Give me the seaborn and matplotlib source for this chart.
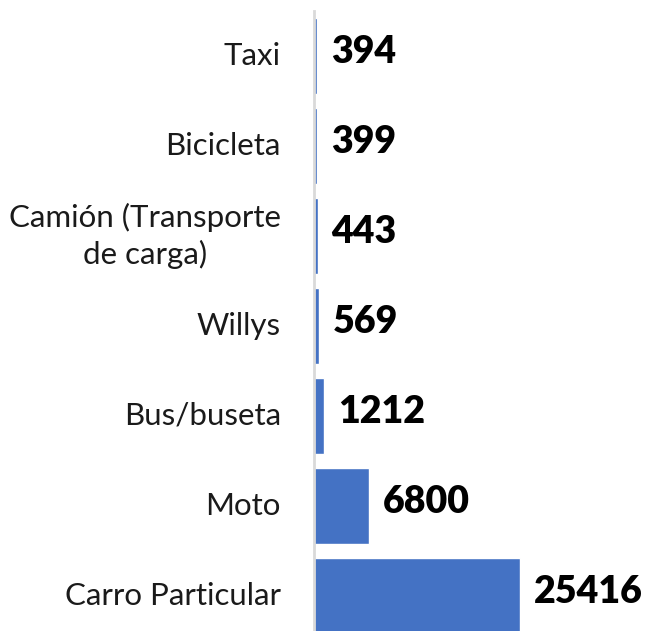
import matplotlib
matplotlib.use("Agg")
import matplotlib.pyplot as plt
import matplotlib.transforms as mtransforms
import seaborn as sns

# Datos
categorias = ['Taxi', 'Bicicleta', 'Camión (Transporte\nde carga)', 'Willys',
              'Bus/buseta', 'Moto', 'Carro Particular']
valores = [394, 399, 443, 569, 1212, 6800, 25416]

sns.set_style('white')
plt.rcParams['font.family'] = ['Lato', 'DejaVu Sans']

fig = plt.figure(figsize=(6.45, 6.31), dpi=100)
ax = fig.add_axes([314 / 645, 0, 331 / 645, 620 / 631])

sns.barplot(x=valores, y=categorias, orient='h', color='#4472C4',
            saturation=1, width=0.84, ax=ax)

for i, v in enumerate(valores):
    ax.annotate(str(v), xy=(v, i), xytext=(10, 3), textcoords='offset points',
                va='center', ha='left', fontsize=27, fontweight='heavy', color='black')

# etiquetas de categoria, con la segunda linea centrada
trans = ax.get_yaxis_transform() + mtransforms.ScaledTranslation(-33 / 100, 0, fig.dpi_scale_trans)
for i, c in enumerate(categorias):
    ax.text(0, i, c, transform=trans, ha='right', va='center',
            multialignment='center', fontsize=22.5, color='#1a1a1a',
            linespacing=1.3)

ax.set_xlim(0, 40840)
ax.set_ylim(6.39, -0.5)
ax.set_xticks([])
ax.set_yticks([])
ax.set_xlabel('')
ax.set_ylabel('')
for s in ['top', 'right', 'bottom']:
    ax.spines[s].set_visible(False)
ax.spines['left'].set_color('#d9d9d9')
ax.spines['left'].set_linewidth(2)

fig.savefig('out.png', dpi=100)
